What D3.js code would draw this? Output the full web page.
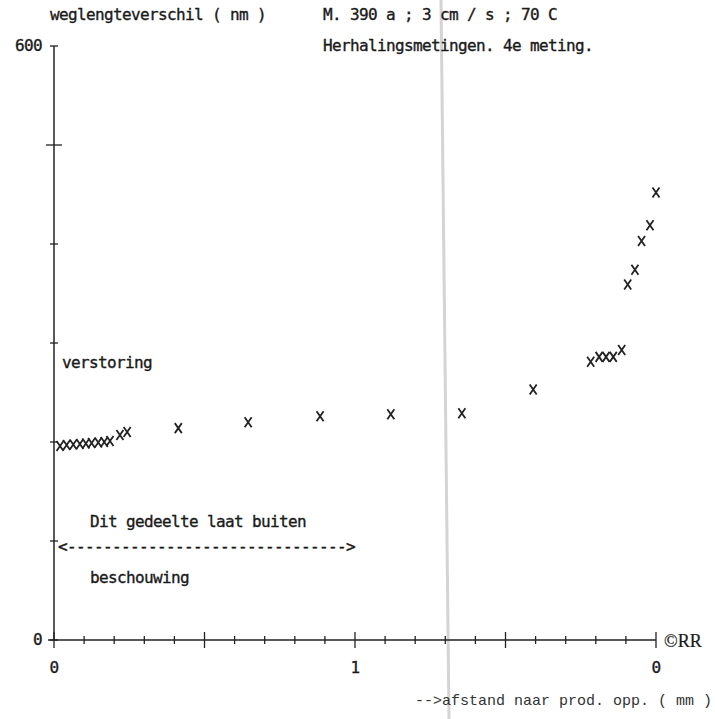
<!DOCTYPE html>
<html>
<head>
<meta charset="utf-8">
<script src="https://cdn.jsdelivr.net/npm/d3@7"></script>
<style>
  body { margin: 0; background: #fff; }
  text { font-family: "DejaVu Sans Mono", monospace; font-size: 16px; letter-spacing: -0.63px; fill: #1a1a1a; stroke: #1a1a1a; stroke-width: 0.35px; }
</style>
</head>
<body>
<div id="chart"></div>
<script>
// afstand (mm) en weglengteverschil (nm), 4e meting
var afstand = [0.02, 0.042, 0.064, 0.086, 0.106, 0.125, 0.147, 0.167, 0.186, 0.219, 0.243,
  0.413, 0.645, 0.884, 1.119, 1.355, 1.592,
  1.783, 1.811, 1.834, 1.858, 1.886, 1.906, 1.930, 1.952, 1.980, 2.0];
var verschil = [196, 197, 197.5, 198, 198.5, 199, 199.5, 200, 201, 207, 210,
  214, 220, 226, 228, 229, 253,
  281, 286, 286, 286, 293, 359, 374, 403, 419, 452];

var xTickValues = [0, 1, 2];
var xTickLabels = ["0", "1", "0"];
var yTickValues = [0, 600];
var yTickLabels = ["0", "600"];

var svgWidth = 715;
var svgHeight = 719;

var margin = { top: 46, right: 59, bottom: 79, left: 54 };
var width = svgWidth - margin.left - margin.right;
var height = svgHeight - margin.top - margin.bottom;

var svg = d3.select("#chart")
  .append("svg")
  .attr("width", svgWidth)
  .attr("height", svgHeight);

// scan streep
svg.append("line")
  .attr("x1", 441).attr("y1", 0)
  .attr("x2", 449).attr("y2", svgHeight)
  .attr("stroke", "#d4d4d4")
  .attr("stroke-width", 3);

var chartGroup = svg.append("g")
  .attr("transform", `translate(${margin.left}, ${margin.top})`);

var xScale = d3.scaleLinear().domain([0, 2]).range([0, width]);
var yScale = d3.scaleLinear().domain([0, 600]).range([height, 0]);

var ink = "#222";

// x axis line + ticks both sides
chartGroup.append("line")
  .attr("x1", -6).attr("x2", width)
  .attr("y1", height).attr("y2", height)
  .attr("stroke", ink).attr("stroke-width", 1.5);

var xTicks = d3.range(0, 21).map(d => d / 10);
chartGroup.selectAll(".xtick")
  .data(xTicks)
  .join("line")
  .attr("class", "xtick")
  .attr("x1", d => xScale(d)).attr("x2", d => xScale(d))
  .attr("y1", (d, i) => height - (i % 5 === 0 ? 8 : 4))
  .attr("y2", (d, i) => height + (i % 5 === 0 ? 8 : 4))
  .attr("stroke", ink).attr("stroke-width", 1.3);

// y axis line + ticks
chartGroup.append("line")
  .attr("x1", 0).attr("x2", 0)
  .attr("y1", 0).attr("y2", height)
  .attr("stroke", ink).attr("stroke-width", 1.5);

var yTicks = d3.range(0, 7).map(d => d * 100);
chartGroup.selectAll(".ytick")
  .data(yTicks)
  .join("line")
  .attr("class", "ytick")
  .attr("x1", (d, i) => i % 5 === 0 && i > 0 ? -8 : -4)
  .attr("x2", (d, i) => i % 5 === 0 && i > 0 ? 8 : 4)
  .attr("y1", d => yScale(d)).attr("y2", d => yScale(d))
  .attr("stroke", ink).attr("stroke-width", 1.3);

// tick labels
chartGroup.selectAll(".xlabel")
  .data(xTickValues)
  .join("text")
  .attr("class", "xlabel")
  .attr("x", d => xScale(d))
  .attr("y", height + 33)
  .attr("text-anchor", "middle")
  .text((d, i) => xTickLabels[i]);

chartGroup.selectAll(".ylabel")
  .data(yTickValues)
  .join("text")
  .attr("class", "ylabel")
  .attr("x", -12)
  .attr("y", d => yScale(d) + 5)
  .attr("text-anchor", "end")
  .text((d, i) => yTickLabels[i]);

// points as x marks
var pts = afstand.map((d, i) => ({ x: d, y: verschil[i] }));
chartGroup.selectAll(".pt")
  .data(pts)
  .join("path")
  .attr("class", "pt")
  .attr("transform", d => `translate(${xScale(d.x)}, ${yScale(d.y)})`)
  .attr("d", "M-3.5,-5L3.5,5M3.5,-5L-3.5,5")
  .attr("stroke", ink)
  .attr("stroke-width", 1.8)
  .attr("fill", "none");

// titles and notes
svg.append("text").attr("x", 50).attr("y", 20).text("weglengteverschil ( nm )");
svg.append("text").attr("x", 323).attr("y", 20).text("M. 390 a ; 3 cm / s ; 70 C");
svg.append("text").attr("x", 323).attr("y", 51).text("Herhalingsmetingen. 4e meting.");

chartGroup.append("text").attr("x", 8).attr("y", 368 - margin.top).text("verstoring");
chartGroup.append("text").attr("x", 36).attr("y", 527 - margin.top).text("Dit gedeelte laat buiten");
chartGroup.append("text").attr("x", 4).attr("y", 552 - margin.top).text("<" + "-".repeat(31) + ">");
chartGroup.append("text").attr("x", 36).attr("y", 583 - margin.top).text("beschouwing");

svg.append("text")
  .attr("x", 664).attr("y", 647)
  .style("font-family", "'Liberation Serif', serif")
  .style("font-size", "18px")
  .style("letter-spacing", "0px")
  .style("stroke-width", "0.2px")
  .text("©RR");

svg.append("text")
  .attr("x", 712).attr("y", 705)
  .attr("text-anchor", "end")
  .style("font-family", "'Liberation Mono', monospace")
  .style("font-size", "15px")
  .style("letter-spacing", "0px")
  .style("stroke-width", "0px")
  .style("fill", "#333")
  .text("-->afstand naar prod. opp. ( mm )");
</script>
</body>
</html>
